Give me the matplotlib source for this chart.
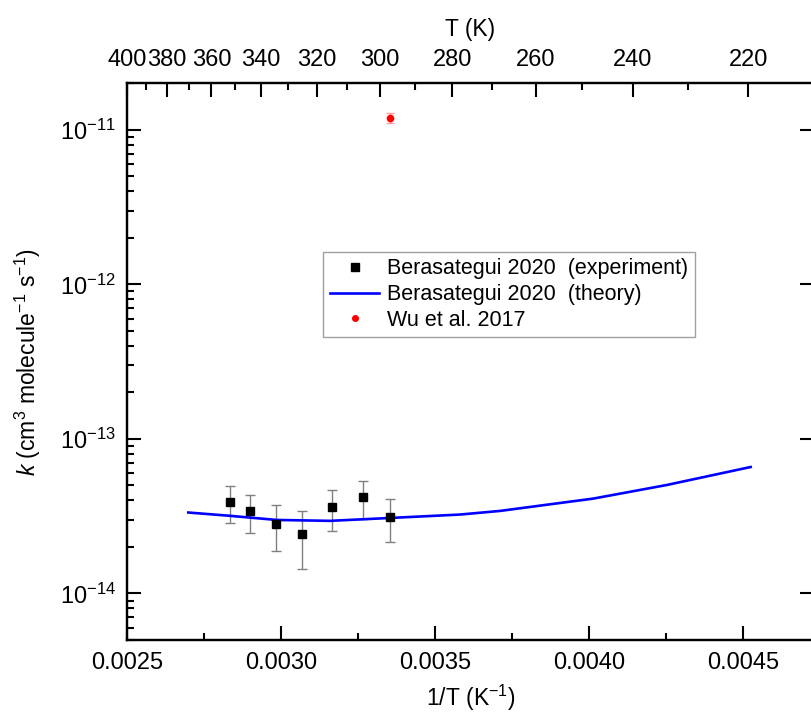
import matplotlib
matplotlib.use("Agg")
import matplotlib.pyplot as plt
import numpy as np
from matplotlib.ticker import FormatStrFormatter, FixedLocator, LogLocator, NullFormatter

plt.rcParams['font.family'] = ['Liberation Sans', 'DejaVu Sans']
plt.rcParams['mathtext.fontset'] = 'custom'
plt.rcParams['mathtext.rm'] = 'Liberation Sans'
plt.rcParams['mathtext.it'] = 'Liberation Sans:italic'

# Berasategui 2020 experiment (1/T in K^-1, k in cm3 molecule-1 s-1)
exp_invT = [0.002833, 0.002898, 0.002985, 0.003068, 0.003165, 0.003266, 0.003355]
exp_k = [3.90e-14, 3.41e-14, 2.81e-14, 2.44e-14, 3.60e-14, 4.20e-14, 3.12e-14]
exp_err = [1.05e-14, 0.94e-14, 0.92e-14, 0.99e-14, 1.07e-14, 1.16e-14, 0.97e-14]

# Berasategui 2020 theory
theo_invT = [0.002699, 0.002834, 0.002986, 0.003159, 0.003355, 0.003581,
             0.003711, 0.004014, 0.004252, 0.004525]
theo_k = [3.34e-14, 3.18e-14, 2.99e-14, 2.95e-14, 3.08e-14, 3.24e-14,
          3.42e-14, 4.11e-14, 5.03e-14, 6.58e-14]

# Wu et al. 2017
wu_invT = [0.003355]
wu_k = [1.19e-11]
wu_err = [0.09e-11]

# top axis temperatures
T_major = [400, 380, 360, 340, 320, 300, 280, 260, 240, 220]
T_minor = [390, 370, 350, 330, 310, 290, 270, 250, 230, 210]

fig = plt.figure(figsize=(8.12, 7.13), dpi=100)
ax = fig.add_axes([0.1564, 0.1024, 0.8458, 0.7808])

ax.errorbar(exp_invT, exp_k, yerr=exp_err, fmt='none', ecolor='#808080',
            elinewidth=1.0, capsize=3.4, capthick=1.0, zorder=2)
ax.plot(exp_invT, exp_k, 's', color='black', ms=6, ls='none', zorder=4,
        label='Berasategui 2020  (experiment)')
ax.plot(theo_invT, theo_k, '-', color='#0000ff', lw=1.9, zorder=3,
        label='Berasategui 2020  (theory)')
ax.errorbar(wu_invT, wu_k, yerr=wu_err, fmt='none', ecolor='#ff9999',
            elinewidth=1.0, capsize=3, capthick=1.0, zorder=2)
ax.plot(wu_invT, wu_k, 'o', color='red', ms=4.5, ls='none', zorder=4,
        label='Wu et al. 2017')

ax.set_yscale('log')
ax.set_xlim(0.0025, 0.00473)
ax.set_ylim(5e-15, 2e-11)

ax.xaxis.set_major_locator(FixedLocator([0.0025, 0.0030, 0.0035, 0.0040, 0.0045]))
ax.xaxis.set_minor_locator(FixedLocator([0.00275, 0.00325, 0.00375, 0.00425, 0.00475]))
ax.xaxis.set_major_formatter(FormatStrFormatter('%.4f'))
ax.yaxis.set_major_locator(FixedLocator([1e-14, 1e-13, 1e-12, 1e-11]))
ax.yaxis.set_minor_locator(LogLocator(base=10, subs=np.arange(2, 10), numticks=20))
ax.yaxis.set_minor_formatter(NullFormatter())

ax.tick_params(which='major', direction='in', length=10, width=1.5,
               labelsize=17, top=False, right=True)
ax.tick_params(which='minor', direction='in', length=5, width=1.5,
               top=False, right=False)
ax.tick_params(axis='x', which='major', pad=9)
ax.tick_params(axis='y', which='major', pad=8)
for s in ax.spines.values():
    s.set_linewidth(1.6)

ax.set_xlabel('1/T (K$^{-1}$)', fontsize=16.5, labelpad=6)
ax.set_ylabel('$k$ (cm$^3$ molecule$^{-1}$ s$^{-1}$)', fontsize=16.5, labelpad=12)

# top axis in temperature
ax2 = ax.twiny()
ax2.set_xlim(ax.get_xlim())
ax2.set_xticks(1.0 / np.array(T_major))
ax2.set_xticklabels([str(t) for t in T_major])
ax2.set_xticks(1.0 / np.array(T_minor), minor=True)
ax2.tick_params(which='major', direction='in', length=10, width=1.5,
                labelsize=17, pad=9)
ax2.tick_params(which='minor', direction='in', length=5, width=1.5)
ax2.set_xlabel('T (K)', fontsize=16.5, labelpad=9)
for s in ax2.spines.values():
    s.set_linewidth(1.6)

leg = ax.legend(loc='upper left', bbox_to_anchor=(0.286, 0.697), borderaxespad=0,
                fontsize=15.5, frameon=True, fancybox=False, edgecolor='#888888',
                handlelength=2.3, handletextpad=0.35, labelspacing=0.22,
                borderpad=0.3, markerscale=0.9)
leg.get_frame().set_linewidth(1.0)

fig.savefig('out.png', dpi=100)
